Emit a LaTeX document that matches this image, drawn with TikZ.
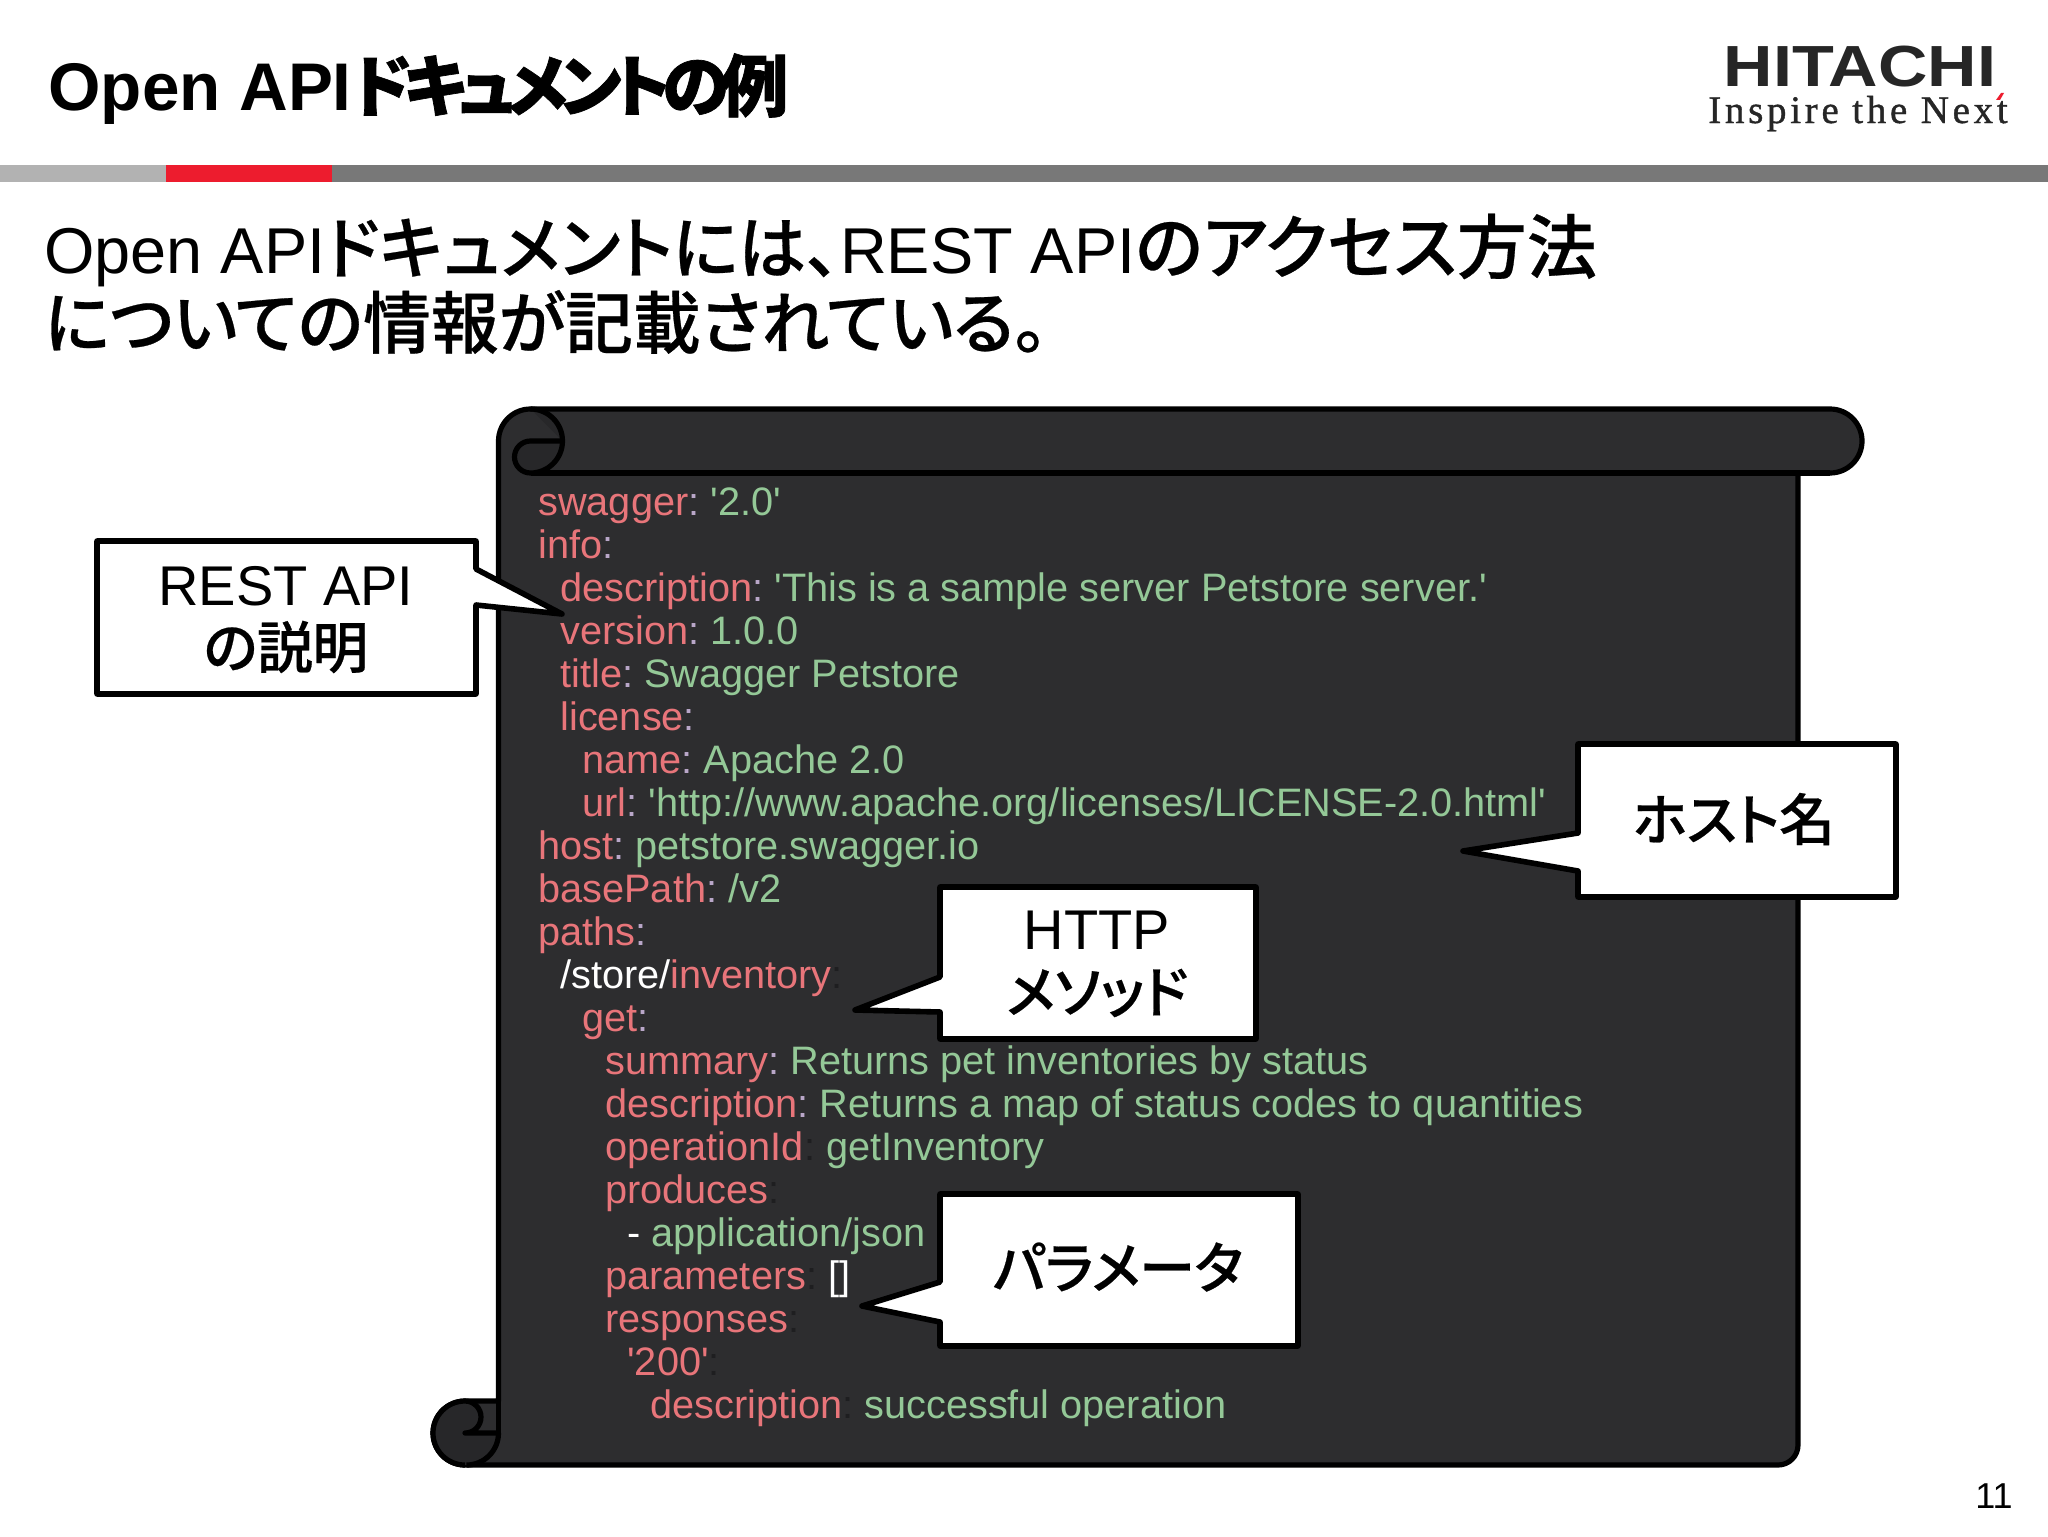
\documentclass[tikz,border=0pt]{standalone}
\usepackage{fontspec}
\setmainfont{Liberation Sans}
\newfontfamily\codefont{Liberation Sans}
\newfontfamily\cjk[RawFeature=+palt,FakeBold=0.4,LetterSpace=-1]{Noto Sans CJK JP Medium}
\newfontfamily\cjks[RawFeature=+palt,FakeBold=0.4]{Noto Sans CJK JP Medium}
\newfontfamily\cjkb[RawFeature=+palt,FakeBold=1,LetterSpace=-11.5]{Noto Sans CJK JP Bold}
\newfontfamily\logofont[LetterSpace=9.5,FakeBold=1]{Liberation Serif}
\newcommand{\J}[1]{{\cjk #1}}
\newcommand{\JS}[2]{{\fontsize{#1}{36}\selectfont\cjks #2}}
\newcommand{\JB}[1]{{\cjkb #1}}
\definecolor{scrollfill}{HTML}{2D2D2F}
\definecolor{curlfill}{HTML}{272729}
\definecolor{keyc}{HTML}{E8757A}
\definecolor{valc}{HTML}{94C897}
\definecolor{colc}{HTML}{B9A7C9}
\definecolor{dimc}{HTML}{1E1E20}
\definecolor{hitachired}{HTML}{ED1C2E}
\newcommand{\K}[1]{\textcolor{keyc}{#1}}
\newcommand{\V}[1]{\textcolor{valc}{#1}}
\newcommand{\C}{\textcolor{colc}{:}}
\newcommand{\D}{\textcolor{dimc}{:}}
\tikzset{
  scrollline/.style={draw=black,line width=2.6pt,line join=round},
  calloutbox/.style={draw=black,fill=white,line width=2.8pt,line join=round},
  code/.style={anchor=base west,inner sep=0pt,font=\codefont\frenchspacing\fontsize{19.85}{21}\selectfont,text=white},
  calltext/.style={anchor=center,inner sep=0pt,font=\fontsize{28}{30}\selectfont,text=black},
  headtext/.style={anchor=base west,inner sep=0pt,text=black}
}
\begin{document}
\begin{tikzpicture}[x=0.5pt,y=0.5pt]
\useasboundingbox (0,0) rectangle (2048,-1536);
\fill[white] (0,0) rectangle (2048,-1536);
% header
\node[headtext,font=\fontsize{33.7}{36}\bfseries\selectfont] (title) at (48,-111) {Open API\JB{ドキュメントの例}};
\fill[black!53] (0,-165) rectangle (2048,-182);
\fill[black!30] (0,-165) rectangle (166,-182);
\fill[hitachired] (166,-165) rectangle (332,-182);
% logo
\node[anchor=base,inner sep=0pt,xscale=1.18,text=black!85,font=\fontsize{29}{30}\bfseries\selectfont] (logoa) at (1860,-87) {HITACHI};
\node[anchor=base,inner sep=0pt,text=black!85,font=\logofont\fontsize{19.5}{20}\selectfont] (logob) at (1858,-123) {Inspire the Next};
\fill[hitachired] (1996,-100) -- (2000,-100) -- (2004,-93) -- (2001,-93) -- cycle;
% subtitle
\node[headtext,font=\fontsize{32.4}{36}\selectfont] (sub1) at (44,-273) {Open API\JS{34}{ドキュメントには、}REST API\JS{35}{のアクセス方法}};
\node[headtext,font=\fontsize{32.4}{36}\selectfont] (sub2) at (44,-348) {\JS{33.9}{についての情報が記載されている。}};
% scroll
\path[scrollline,fill=scrollfill]
  (498.5,-441) arc[start angle=180,end angle=90,radius=32] -- (1830,-409) arc[start angle=90,end angle=-90,radius=32]
  -- (1798,-473) -- (1798,-1445) arc[start angle=0,end angle=-90,radius=20] -- (465,-1465)
  arc[start angle=270,end angle=90,radius=32] -- (498.5,-1401) -- cycle;
\draw[scrollline] (530.5,-473) -- (1830,-473);
\path[scrollline,fill=curlfill] (530.5,-409) arc[start angle=90,end angle=-90,radius=32] arc[start angle=270,end angle=90,radius=16] -- (562.5,-441);
\path[scrollline,fill=curlfill] (465,-1465) arc[start angle=270,end angle=90,radius=32]
  arc[start angle=90,end angle=-90,radius=16] -- (498.5,-1433) arc[start angle=0,end angle=-90,radius=32];
\draw[scrollline] (498.5,-1401) -- (498.5,-1433);
% code
\node[code] (l1) at (538,-515) {\K{swagger}\C{} \V{'2.0'}};
\node[code] (l2) at (538,-558) {\K{info}\C};
\node[code] (l3) at (560,-601) {\K{description}\C{} \V{'This is a sample server Petstore server.'}};
\node[code] (l4) at (560,-644) {\K{version}\C{} \V{1.0.0}};
\node[code] (l5) at (560,-687) {\K{title}\C{} \V{Swagger Petstore}};
\node[code] (l6) at (560,-730) {\K{license}\C};
\node[code] (l7) at (582,-773) {\K{name}\C{} \V{Apache 2.0}};
\node[code] (l8) at (582,-816) {\K{url}\C{} \V{'http://www.apache.org/licenses/LICENSE-2.0.html'}};
\node[code] (l9) at (538,-859) {\K{host}\C{} \V{petstore.swagger.io}};
\node[code] (l10) at (538,-902) {\K{basePath}\C{} \V{/v2}};
\node[code] (l11) at (538,-945) {\K{paths}\C};
\node[code] (l12) at (560,-988) {/store/\K{inventory}\D};
\node[code] (l13) at (582,-1031) {\K{get}\C};
\node[code] (l14) at (605,-1074) {\K{summary}\C{} \V{Returns pet inventories by status}};
\node[code] (l15) at (605,-1117) {\K{description}\C{} \V{Returns a map of status codes to quantities}};
\node[code] (l16) at (605,-1160) {\K{operationId}\D{} \V{getInventory}};
\node[code] (l17) at (605,-1203) {\K{produces}\D};
\node[code] (l18) at (627,-1246) {- \V{application/json}};
\node[code] (l19) at (605,-1289) {\K{parameters}\D{} []};
\node[code] (l20) at (605,-1332) {\K{responses}\D};
\node[code] (l21) at (627,-1375) {\K{'200'}\D};
\node[code] (l22) at (650,-1418) {\K{description}\D{} \V{successful operation}};
% callouts
\path[calloutbox] (97,-541) -- (476,-541) -- (476,-569) -- (562,-614) -- (476,-605) -- (476,-694) -- (97,-694) -- cycle;
\node[calltext] (restA) at (286,-586) {REST API};
\node[calltext] (restB) at (286,-647) {\J{の説明}};
\path[calloutbox] (1578,-744) -- (1896,-744) -- (1896,-897) -- (1578,-897) -- (1578,-871) -- (1463,-851) -- (1578,-833) -- cycle;
\node[calltext] (host) at (1734,-819) {\J{ホスト名}};
\path[calloutbox] (940,-887) -- (1256,-887) -- (1256,-1039) -- (940,-1039) -- (940,-1012) -- (855,-1010) -- (940,-977) -- cycle;
\node[calltext] (httpA) at (1097,-930) {HTTP};
\node[calltext] (httpB) at (1097,-993) {\J{メソッド}};
\path[calloutbox] (940,-1194) -- (1298,-1194) -- (1298,-1346) -- (940,-1346) -- (940,-1322) -- (862,-1306) -- (940,-1282) -- cycle;
\node[calltext] (param) at (1118,-1267) {\J{パラメータ}};
% page number
\node[anchor=base,inner sep=0pt,font=\fontsize{18}{20}\selectfont] (page) at (1994,-1508) {11};
\end{tikzpicture}
\end{document}
